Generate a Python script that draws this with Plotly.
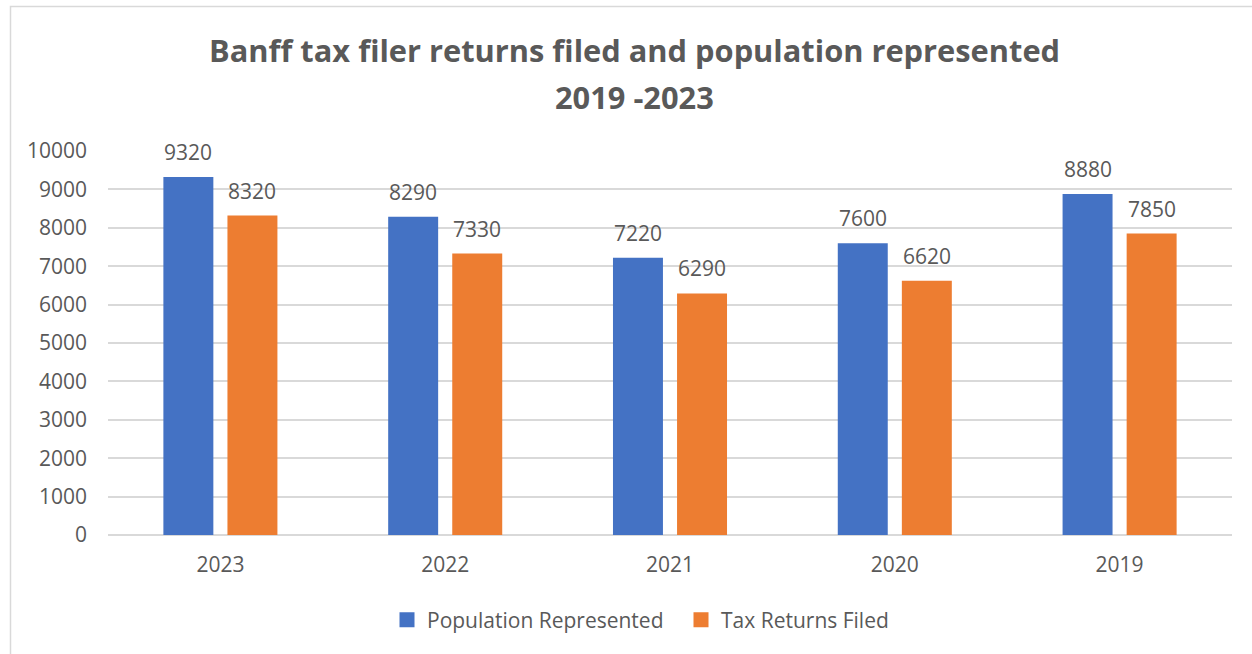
import plotly.graph_objects as go

# Banff tax filer data, newest year first
years = ["2023", "2022", "2021", "2020", "2019"]
population_represented = [9320, 8290, 7220, 7600, 8880]
tax_returns_filed = [8320, 7330, 6290, 6620, 7850]
y_ticks = [0, 1000, 2000, 3000, 4000, 5000, 6000, 7000, 8000, 9000, 10000]

BLUE = "#4472C4"
ORANGE = "#ED7D31"
TEXT = "#595959"
GRID = "#D9D9D9"
FONT = "Open Sans"
FS = 21

W, H = 1252, 654
ML, MR, MT, MB = 108, 20, 151, 119
plot_w = W - ML - MR
plot_h = H - MT - MB
BARGAP, GROUPGAP = 0.43, 0.22

fig = go.Figure()
fig.add_trace(go.Bar(name="Population Represented", x=years, y=population_represented,
                     marker=dict(color=BLUE, line=dict(width=0)), showlegend=False))
fig.add_trace(go.Bar(name="Tax Returns Filed", x=years, y=tax_returns_filed,
                     marker=dict(color=ORANGE, line=dict(width=0)), showlegend=False))

# square legend keys
for name, color in (("Population Represented", BLUE), ("Tax Returns Filed", ORANGE)):
    fig.add_trace(go.Scatter(name=name, x=[years[0]], y=[None], mode="markers",
                             marker=dict(symbol="square", size=15, color=color)))

# value labels above each bar (x given as category index)
slot_px = plot_w / len(years) * (1 - BARGAP) / 2
annotations = []
for series, shift in ((population_represented, -slot_px / 2), (tax_returns_filed, slot_px / 2)):
    for i, v in enumerate(series):
        annotations.append(dict(x=i, y=v, xref="x", yref="y", text=str(v),
                                showarrow=False, xshift=shift, yshift=9,
                                yanchor="bottom", font=dict(family=FONT, size=FS, color=TEXT)))

# two-line chart title
for text, py in (("Banff tax filer returns filed and population represented", 50), ("2019 -2023", 97)):
    annotations.append(dict(x=(634 - ML) / plot_w, y=(H - MB - py) / plot_h, xref="paper", yref="paper",
                            text="<b>" + text + "</b>",
                            showarrow=False, xanchor="center", yanchor="middle",
                            font=dict(family=FONT, size=30.8, color=TEXT)))

# chart-area frame
shapes = [dict(type="rect", xref="paper", yref="paper",
               x0=(10.5 - ML) / plot_w, x1=(W + 20 - ML) / plot_w,
               y0=(H - MB - (H + 20)) / plot_h, y1=(H - MB - 6.5) / plot_h,
               line=dict(color=GRID, width=1.5), fillcolor="rgba(0,0,0,0)", layer="below")]

fig.update_layout(
    width=W, height=H,
    margin=dict(l=ML, r=MR, t=MT, b=MB),
    paper_bgcolor="white", plot_bgcolor="white",
    barmode="group", bargap=BARGAP, bargroupgap=GROUPGAP,
    font=dict(family=FONT, size=FS, color=TEXT),
    showlegend=True,
    legend=dict(orientation="h", x=(387 - ML) / plot_w, y=(H - MB - 620) / plot_h,
                xanchor="left", yanchor="middle",
                font=dict(family=FONT, size=FS, color=TEXT), itemwidth=30,
                entrywidth=249, entrywidthmode="pixels",
                traceorder="normal"),
    xaxis=dict(type="category", categoryorder="array", categoryarray=years,
               range=[-0.5, len(years) - 0.5], autorange=False,
               showgrid=False, showline=False, ticks="",
               tickfont=dict(size=FS, color=TEXT), ticklabelstandoff=15),
    yaxis=dict(range=[0, 10000], autorange=False, tickvals=y_ticks, ticktext=[str(t) for t in y_ticks],
               showgrid=True, gridcolor=GRID, gridwidth=1.5,
               zeroline=True, zerolinecolor=GRID, zerolinewidth=1.5, showline=False, ticks="",
               tickfont=dict(size=FS, color=TEXT), ticklabelstandoff=20),
    annotations=annotations,
    shapes=shapes,
)

fig.write_html("out.html")
